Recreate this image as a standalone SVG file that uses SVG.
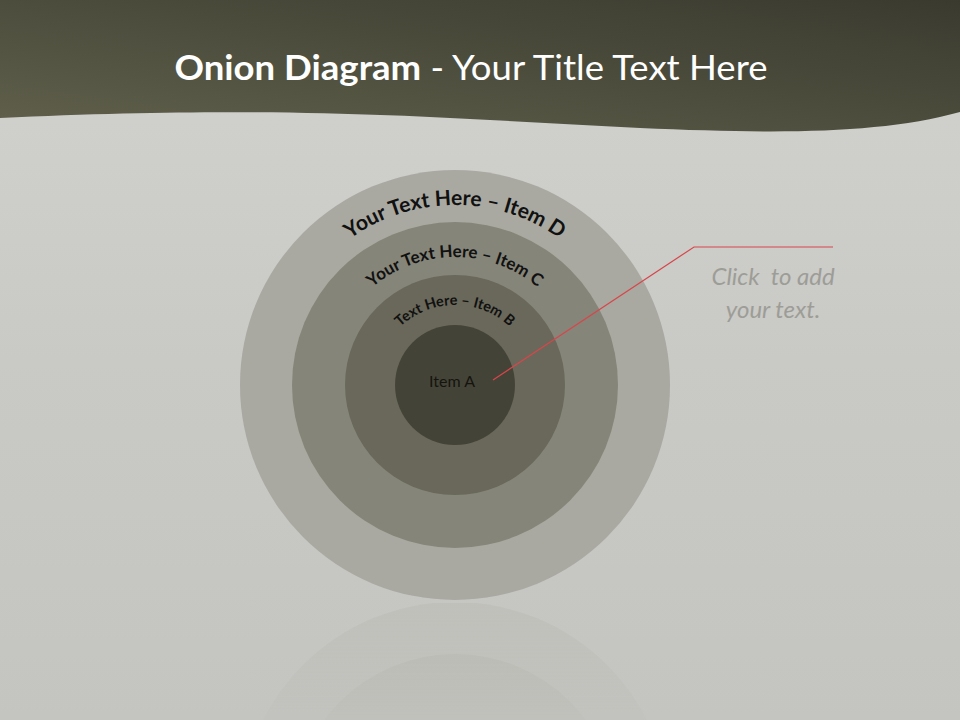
<svg xmlns="http://www.w3.org/2000/svg" width="960" height="720" viewBox="0 0 960 720">
<defs>
<linearGradient id="bg" x1="0" y1="0" x2="0" y2="1">
<stop offset="0" stop-color="#d2d2cf"/>
<stop offset="0.5" stop-color="#c9c9c5"/>
<stop offset="1" stop-color="#c4c5c0"/>
</linearGradient>
<linearGradient id="hdr" x1="0" y1="1" x2="1" y2="0">
<stop offset="0" stop-color="#60604c"/>
<stop offset="1" stop-color="#3a3a2f"/>
</linearGradient>
<linearGradient id="fade" x1="0" y1="0" x2="0" y2="1">
<stop offset="0" stop-color="#fff" stop-opacity="1"/>
<stop offset="1" stop-color="#fff" stop-opacity="0.3"/>
</linearGradient>
<mask id="refmask" maskUnits="userSpaceOnUse" x="0" y="600" width="960" height="120">
<rect x="0" y="603" width="960" height="117" fill="url(#fade)"/>
</mask>
<path id="arcD" d="M 275,385 A 180,180 0 0 1 635,385"/>
<path id="arcC" d="M 327,385 A 128,128 0 0 1 583,385"/>
<path id="arcB" d="M 375,385 A 80,80 0 0 1 535,385"/>
</defs>
<style>
.ring{stroke:none}
.arc{font-family:Lato,"Open Sans",sans-serif;font-weight:bold;fill:#111;text-anchor:middle}
.note{font-family:Lato,"Open Sans",sans-serif;font-style:italic;font-size:24px;fill:#9d9d97;text-anchor:middle;white-space:pre}
</style>
<rect width="960" height="720" fill="url(#bg)"/>
<path d="M0,0 H960 V112 C 880,134 780,134 640,128 C 450,119 300,104 0,118 Z" fill="url(#hdr)"/>
<text x="471" y="80" font-family="Lato,'Open Sans',sans-serif" font-size="35" fill="#fff" text-anchor="middle" textLength="593" lengthAdjust="spacingAndGlyphs"><tspan font-weight="bold">Onion Diagram</tspan> - Your Title Text Here</text>
<g id="reflection" mask="url(#refmask)" opacity="0.2">
<circle cx="455" cy="817" r="215" fill="#a8a8a0"/>
<circle cx="455" cy="817" r="163" fill="#858478"/>
</g>
<g id="itemD"><circle class="ring" cx="455" cy="385" r="215" fill="#a9a9a1"/><text class="arc" font-size="21"><textPath href="#arcD" startOffset="50%">Your Text Here – Item D</textPath></text></g>
<g id="itemC"><circle class="ring" cx="455" cy="385" r="163" fill="#868579"/><text class="arc" font-size="17"><textPath href="#arcC" startOffset="50%">Your Text Here – Item C</textPath></text></g>
<g id="itemB"><circle class="ring" cx="455" cy="385" r="110" fill="#69685a"/><text class="arc" font-size="14.5"><textPath href="#arcB" startOffset="50%">Text Here – Item B</textPath></text></g>
<g id="itemA"><circle class="ring" cx="455" cy="385" r="60" fill="#444338"/><text x="452" y="387" font-family="Lato,'Open Sans',sans-serif" font-size="16" fill="#15150f" text-anchor="middle">Item A</text></g>
<g id="connectors"><polyline points="493,380 694,247 833,247" fill="none" stroke="#d9454a" stroke-width="1.2"/></g>
<g id="callout"><text class="note" x="773" y="285">Click  to add</text><text class="note" x="773" y="318">your text.</text></g>
</svg>
